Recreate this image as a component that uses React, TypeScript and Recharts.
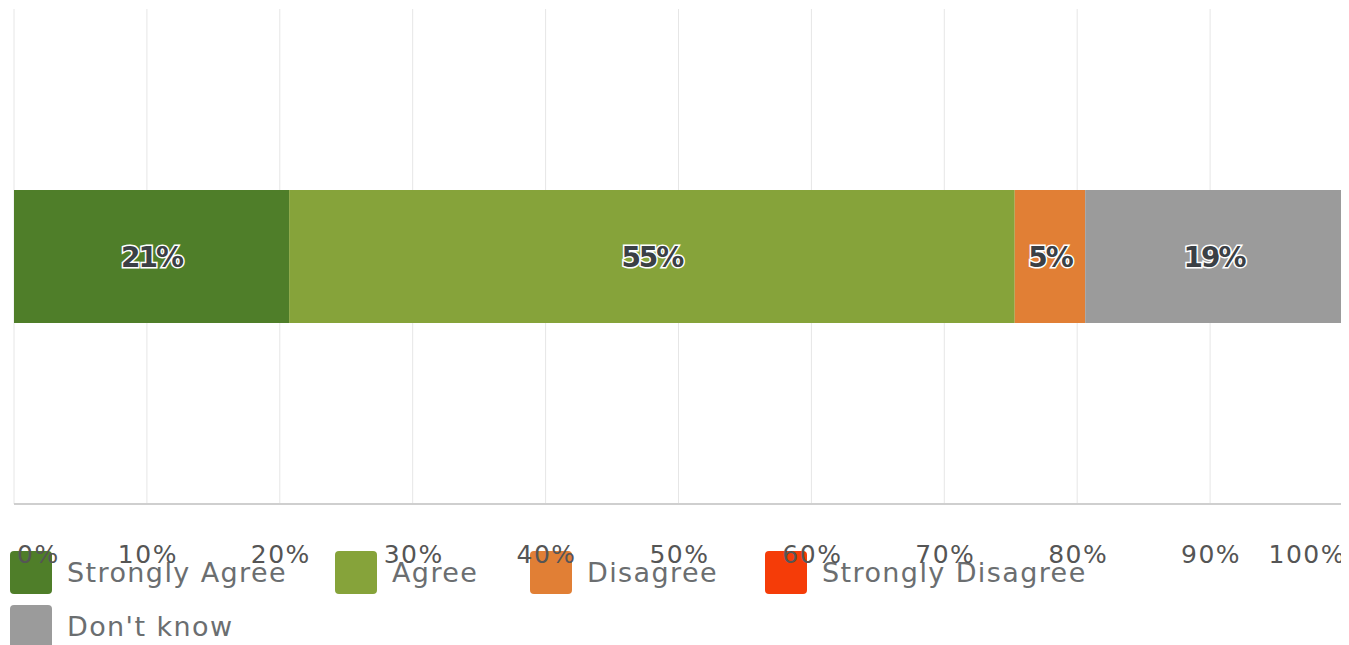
import React from "react";
import { BarChart, Bar, XAxis, YAxis, CartesianGrid, Legend, LabelList } from "recharts";

const categories = ["Q"];
const seriesNames = ["Strongly Agree", "Agree", "Disagree", "Strongly Disagree", "Don't know"];
const seriesKeys = ["sa", "a", "d", "sd", "dk"];
const seriesValues = [20.7, 54.6, 5.3, 0, 19.4];
const seriesColors = ["#4f7e29", "#86a33a", "#e17f35", "#f53c08", "#9b9b9b"];
const xTicks = [0, 10, 20, 30, 40, 50, 60, 70, 80, 90, 100];

const data = categories.map((name) => {
  const row: Record<string, any> = { name };
  seriesKeys.forEach((k, i) => (row[k] = seriesValues[i]));
  return row;
});

const legendItemWidths = [325, 195, 235, 370, 300];

const TickLabel = (props: any) => {
  const { x, y, payload } = props;
  const v = payload.value;
  let anchor: "start" | "middle" | "end" = "middle";
  let dx = 1;
  if (v === 0) { anchor = "start"; dx = 3; }
  if (v === 100) { anchor = "end"; dx = 3; }
  return (
    <text
      x={x + dx}
      y={y + 59}
      textAnchor={anchor}
      fill="#555"
      fontSize={25}
      letterSpacing={1.5}
      fontFamily="DejaVu Sans"
    >
      {v}%
    </text>
  );
};

const BarLabel = (props: any) => {
  const { x, y, width, height, value } = props;
  if (!value) return null;
  return (
    <text
      x={x + width / 2}
      y={y + height / 2}
      dy={10}
      textAnchor="middle"
      fill="#3b4045"
      stroke="#ffffff"
      strokeWidth={3}
      paintOrder="stroke"
      fontSize={28}
      fontWeight="bold"
      letterSpacing={-2}
      fontFamily="DejaVu Sans"
    >
      {Math.round(value)}%
    </text>
  );
};

const LegendContent = () => (
  <div style={{ display: "flex", flexWrap: "wrap", width: 1150 }}>
    {seriesNames.map((n, i) => (
      <div
        key={n}
        style={{
          display: "flex",
          alignItems: "center",
          width: legendItemWidths[i],
          height: 43,
          marginBottom: 11,
        }}
      >
        <div
          style={{
            width: 42,
            height: 43,
            borderRadius: 4,
            background: seriesColors[i],
            flex: "none",
          }}
        />
        <span
          style={{
            marginLeft: 15,
            fontFamily: "DejaVu Sans",
            fontSize: 27,
            letterSpacing: 1.4,
            lineHeight: "43px",
            color: "#6b6e70",
            whiteSpace: "nowrap",
          }}
        >
          {n}
        </span>
      </div>
    ))}
  </div>
);

export default function App() {
  return (
    <div style={{ position: "relative", width: 1341, height: 637 }}>
      <BarChart
        width={1341}
        height={637}
        data={data}
        layout="vertical"
        margin={{ top: 1, right: 6, left: 6, bottom: 0 }}
      >
        <CartesianGrid horizontal={false} vertical={true} stroke="#e6e6e6" />
        <XAxis
          type="number"
          domain={[0, 100]}
          ticks={xTicks}
          interval={0}
          tickLine={false}
          tickSize={0}
          tickMargin={0}
          axisLine={{ stroke: "#cfcfcf", strokeWidth: 2 }}
          height={141}
          tick={<TickLabel />}
        />
        <YAxis
          type="category"
          dataKey="name"
          width={0}
          tick={false}
          tickLine={false}
          axisLine={{ stroke: "#cfcfcf", strokeWidth: 2 }}
        />
        <Legend
          layout="horizontal"
          verticalAlign="middle"
          align="center"
          content={<LegendContent />}
          wrapperStyle={{ top: 543, left: 2, width: 1200, height: 100, zIndex: -1 }}
        />
        {seriesKeys.map((k, i) => (
          <Bar
            key={k}
            dataKey={k}
            name={seriesNames[i]}
            stackId="s"
            fill={seriesColors[i]}
            barSize={133}
            isAnimationActive={false}
          >
            <LabelList dataKey={k} content={<BarLabel />} />
          </Bar>
        ))}
      </BarChart>
    </div>
  );
}
